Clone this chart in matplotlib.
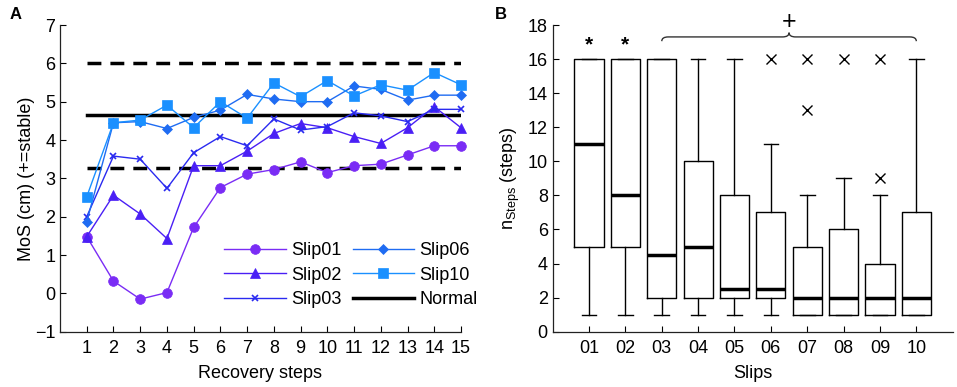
import numpy as np
import matplotlib
matplotlib.use("Agg")
import matplotlib.pyplot as plt
from matplotlib.path import Path
from matplotlib.patches import PathPatch

plt.rcParams['font.family'] = ['Liberation Sans', 'DejaVu Sans']
plt.rcParams['mathtext.default'] = 'regular'

# ---- panel A data ----
steps = list(range(1, 16))
slip01 = [1.48, 0.32, -0.15, 0.02, 1.72, 2.76, 3.11, 3.23, 3.43, 3.15, 3.33, 3.37, 3.61, 3.85, 3.85]
slip02 = [1.48, 2.56, 2.07, 1.43, 3.33, 3.33, 3.71, 4.17, 4.43, 4.32, 4.09, 3.91, 4.32, 4.87, 4.32]
slip03 = [2.00, 3.58, 3.50, 2.74, 3.67, 4.09, 3.85, 4.55, 4.26, 4.35, 4.71, 4.63, 4.48, 4.80, 4.80]
slip06 = [1.87, 4.45, 4.48, 4.30, 4.59, 4.78, 5.19, 5.07, 5.00, 5.00, 5.41, 5.32, 5.04, 5.17, 5.17]
slip10 = [2.52, 4.45, 4.52, 4.91, 4.32, 5.00, 4.57, 5.49, 5.13, 5.55, 5.15, 5.44, 5.30, 5.76, 5.44]
normal_mean = 4.65
normal_band = [3.28, 6.02]

# ---- panel B data ----
slips = ['01', '02', '03', '04', '05', '06', '07', '08', '09', '10']
whislo = [1, 1, 1, 1, 1, 1, 1, 1, 1, 1]
q1 = [5, 5, 2, 2, 2, 2, 1, 1, 1, 1]
med = [11, 8, 4.5, 5, 2.5, 2.5, 2, 2, 2, 2]
q3 = [16, 16, 16, 10, 8, 7, 5, 6, 4, 7]
whishi = [16, 16, 16, 16, 16, 11, 8, 9, 8, 16]
fliers = [[], [], [], [], [], [16], [13, 16], [16], [9, 16], []]
sig_star = ['01', '02']
sig_group = ['03', '10']

fs = 13

fig = plt.figure(figsize=(9.57, 3.87), dpi=100)
axA = fig.add_axes([0.0627, 0.1429, 0.419, 0.7925])
axB = fig.add_axes([0.5775, 0.1429, 0.418, 0.7925])

for ax in (axA, axB):
    ax.spines['top'].set_visible(False)
    ax.spines['right'].set_visible(False)
    ax.tick_params(direction='in', length=4, labelsize=fs, width=0.8)
    ax.tick_params(axis='x', pad=6)
    for s in ('left', 'bottom'):
        ax.spines[s].set_linewidth(0.9)
        ax.spines[s].set_color('#222222')

# panel A
series = [
    ('Slip01', slip01, '#7a2cf5', 'o', 7),
    ('Slip02', slip02, '#4a1ff5', '^', 7),
    ('Slip03', slip03, '#2a2af0', 'x', 4.5),
    ('Slip06', slip06, '#1f6cf2', 'D', 5.5),
    ('Slip10', slip10, '#1a90ff', 's', 7),
]
for name, vals, col, mk, ms in series:
    axA.plot(steps, vals, color=col, marker=mk, markersize=ms, lw=1,
             mew=1.2 if mk == 'x' else 0.5, label=name, clip_on=False, zorder=3)
axA.plot([steps[0], steps[-1]], [normal_mean] * 2, color='black', lw=2.5, label='Normal', zorder=2)
for b in normal_band:
    axA.plot([steps[0], steps[-1]], [b, b], color='black', lw=2.5, ls=(0, (4, 2.6)), zorder=2)

axA.set_xlim(0, 15)
axA.set_ylim(-1, 7)
axA.set_xticks(steps)
axA.set_yticks(range(-1, 8))
axA.set_xlabel('Recovery steps', fontsize=fs, labelpad=6)
axA.set_ylabel('MoS (cm) (+=stable)', fontsize=fs, labelpad=0)
axA.legend(ncol=2, frameon=False,
           fontsize=fs, handlelength=3.4, handletextpad=0.3, columnspacing=0.6,
           labelspacing=0.42, loc='center', bbox_to_anchor=(0.3668, 0.2894),
           bbox_transform=fig.transFigure)

# panel B
pos = np.arange(1, len(slips) + 1)
stats = []
for i in range(len(slips)):
    stats.append(dict(whislo=whislo[i], q1=q1[i], med=med[i], q3=q3[i],
                      whishi=whishi[i], fliers=fliers[i], label=slips[i]))
axB.bxp(stats, positions=pos, widths=0.8, showfliers=True,
        boxprops=dict(color='black', lw=1),
        whiskerprops=dict(color='black', lw=1, ls='-'),
        capprops=dict(color='black', lw=1),
        medianprops=dict(color='black', lw=2.5),
        flierprops=dict(marker='x', markeredgecolor='black', markersize=7, mew=1))
axB.set_xlim(0, 11)
axB.set_ylim(0, 18)
axB.set_yticks(range(0, 19, 2))
axB.set_xticks(pos)
axB.set_xticklabels(slips)
axB.set_xlabel('Slips', fontsize=fs, labelpad=6)
axB.set_ylabel('n$_{Steps}$ (steps)', fontsize=fs)

for s in sig_star:
    axB.text(pos[slips.index(s)], 16.85, '*', ha='center', va='center', fontsize=15, fontweight='bold')

# curly brace over the group
x0 = pos[slips.index(sig_group[0])]
x1 = pos[slips.index(sig_group[1])]
xm = (x0 + x1) / 2
yb, yt, ypk = 17.05, 17.3, 17.55
r = 0.18
verts = [(x0, yb), (x0, yt), (x0 + r, yt),
         (xm - r, yt), (xm, yt), (xm, ypk),
         (xm, yt), (xm + r, yt),
         (x1 - r, yt), (x1, yt), (x1, yb)]
codes = [Path.MOVETO, Path.CURVE3, Path.CURVE3,
         Path.LINETO, Path.CURVE3, Path.CURVE3,
         Path.CURVE3, Path.CURVE3,
         Path.LINETO, Path.CURVE3, Path.CURVE3]
axB.add_patch(PathPatch(Path(verts, codes), fill=False, lw=1, color='#333333', clip_on=False))
axB.text(xm, 18.15, '+', ha='center', va='center', fontsize=18)

fig.text(0.01, 0.962, 'A', fontsize=12, fontweight='bold', va='center')
fig.text(0.517, 0.962, 'B', fontsize=12, fontweight='bold', va='center')

fig.savefig('out.png', dpi=100)
